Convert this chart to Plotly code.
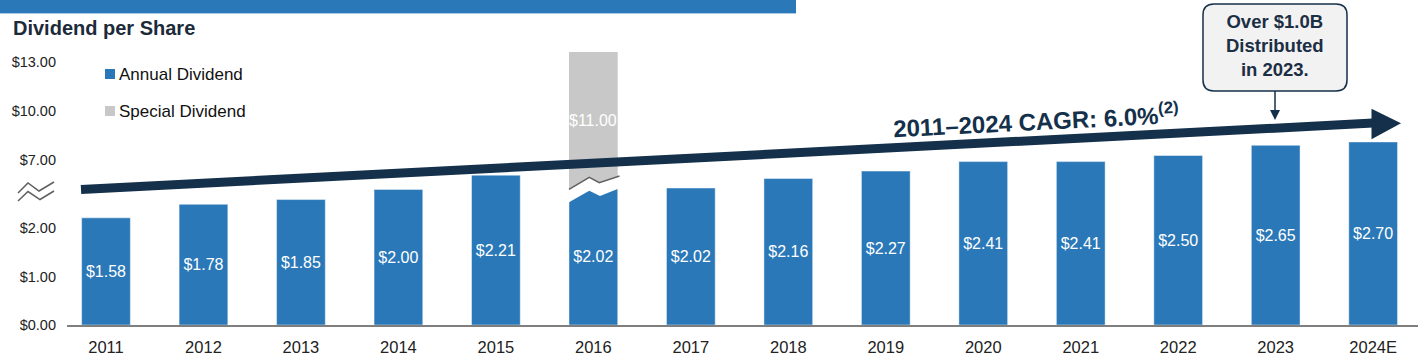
import plotly.graph_objects as go

# ---------------- data ----------------
years = ["2011", "2012", "2013", "2014", "2015", "2016", "2017",
         "2018", "2019", "2020", "2021", "2022", "2023", "2024E"]
annual_dividend = [1.58, 1.78, 1.85, 2.00, 2.21, 2.02, 2.02,
                   2.16, 2.27, 2.41, 2.41, 2.50, 2.65, 2.70]
special_year = ["2016"]
special_dividend = [11.00]
ytick_values = [0, 1, 2, 7, 10, 13]
ytick_labels = ["$0.00", "$1.00", "$2.00", "$7.00", "$10.00", "$13.00"]
series_names = ["Annual Dividend", "Special Dividend"]

# ---------------- styling / layout constants ----------------
W, H = 1418, 356
ML, MR, MT, MB = 67, 0, 50, 31
PW, PH = W - ML - MR, H - MT - MB
Y_TOP = 4.056           # axis-unit height of plot area (bars drawn in $)
X_RANGE = [-0.4, 13.46]
BLUE = "#2a78b8"
GRAY = "#c8c8c8"
NAVY = "#14304a"
FONT = "Arial, Liberation Sans, sans-serif"


def px(xp, yp):
    """pixel -> paper coords"""
    return (xp - ML) / PW, (H - MB - yp) / PH


def broken_axis(v):
    # broken axis used for the tick labels on the left
    if v <= 2:
        return v * 0.715
    return 2.435 + (v - 7) * 0.2417


fig = go.Figure()

fig.add_trace(go.Bar(
    x=years, y=annual_dividend, name=series_names[0],
    marker=dict(color=BLUE, line=dict(color="rgba(255,255,255,0.45)", width=1)),
    width=0.5,
    texttemplate="$%{y:.2f}", textposition="inside", insidetextanchor="middle",
    textangle=0, textfont=dict(color="white", size=16, family=FONT),
    showlegend=False, hoverinfo="x+y",
))

special_base = [annual_dividend[years.index(y)] for y in special_year]
fig.add_trace(go.Bar(
    x=special_year, y=[Y_TOP - 0.03 - b for b in special_base], base=special_base,
    name=series_names[1],
    marker=dict(color=GRAY, line=dict(width=0)),
    width=0.5, showlegend=False,
    customdata=special_dividend, hovertemplate="%{x}: $%{customdata:.2f}<extra></extra>",
))

shapes = []
annotations = []


def poly(points, close=True):
    s = ""
    for i, (a, b) in enumerate(points):
        xp, yp = px(a, b)
        s += ("M" if i == 0 else "L") + f"{xp:.5f},{yp:.5f}"
    return s + ("Z" if close else "")


# top banner
x0, y0 = px(0, 0)
x1, y1 = px(796, 13)
shapes.append(dict(type="rect", xref="paper", yref="paper", x0=x0, x1=x1, y0=y1, y1=y0 + 0.1,
                   fillcolor=BLUE, line=dict(width=0), layer="above"))
a0, b0 = px(0, 13.5)
a1, _ = px(796, 13.5)
shapes.append(dict(type="line", xref="paper", yref="paper", x0=a0, x1=a1, y0=b0, y1=b0,
                   line=dict(color="#a9c9e6", width=1)))

# legend (swatches + labels)
for i, (name, col) in enumerate(zip(series_names, [BLUE, GRAY])):
    cy = 74 + 37 * i
    lx0, ly0 = px(105, cy - 5)
    lx1, ly1 = px(115, cy + 5)
    shapes.append(dict(type="rect", xref="paper", yref="paper", x0=lx0, x1=lx1, y0=ly1, y1=ly0,
                       fillcolor=col, line=dict(width=0)))
    tx, ty = px(117, cy)
    annotations.append(dict(xref="paper", yref="paper", x=tx, y=ty, xanchor="left",
                            yanchor="middle", text=name, showarrow=False,
                            font=dict(size=17, color="#111111", family=FONT)))

# y-axis break marks
shapes.append(dict(type="path", xref="paper", yref="paper",
                   path=poly([(18, 193), (28, 183), (39, 191), (54, 182)], close=False),
                   line=dict(color="#606060", width=1.5)))
shapes.append(dict(type="path", xref="paper", yref="paper",
                   path=poly([(18, 201), (28, 191.5), (40, 199.5), (54, 191)], close=False),
                   line=dict(color="#606060", width=1.5)))

# break in the 2016 bar
shapes.append(dict(type="path", xref="paper", yref="paper",
                   path=poly([(569, 189.3), (589.3, 177.3), (599.3, 182.7), (619.5, 176),
                              (619.5, 188.3), (600, 196), (589.3, 190.7), (569, 202.3)]),
                   fillcolor="white", line=dict(width=0), layer="above"))
shapes.append(dict(type="path", xref="paper", yref="paper",
                   path=poly([(569, 189.3), (589.3, 177.3), (599.3, 182.7), (619.5, 176)], close=False),
                   line=dict(color="#606060", width=1.5), layer="above"))

# CAGR arrow
sx0, sy0 = px(81, 189.5)
sx1, sy1 = px(1373, 123.1)
shapes.append(dict(type="line", xref="paper", yref="paper", x0=sx0, y0=sy0, x1=sx1, y1=sy1,
                   line=dict(color=NAVY, width=9), layer="above"))
shapes.append(dict(type="path", xref="paper", yref="paper",
                   path=poly([(1371.5, 108.8), (1401, 123.3), (1371.5, 139.3)]),
                   fillcolor=NAVY, line=dict(width=0), layer="above"))

# callout box (rounded)
L, R, T, B, r = 1203, 1347, 4, 91, 11
def P(a, b):
    xp, yp = px(a, b)
    return f"{xp:.5f},{yp:.5f}"
box = (f"M{P(L + r, T)}L{P(R - r, T)}Q{P(R, T)} {P(R, T + r)}L{P(R, B - r)}"
       f"Q{P(R, B)} {P(R - r, B)}L{P(L + r, B)}Q{P(L, B)} {P(L, B - r)}"
       f"L{P(L, T + r)}Q{P(L, T)} {P(L + r, T)}Z")
shapes.append(dict(type="path", xref="paper", yref="paper", path=box,
                   fillcolor="#f2f2f2", line=dict(color=NAVY, width=1.5), layer="above"))
cx0, cy0 = px(1275, 91)
cx1, cy1 = px(1275, 112)
shapes.append(dict(type="line", xref="paper", yref="paper", x0=cx0, y0=cy0, x1=cx1, y1=cy1,
                   line=dict(color=NAVY, width=1.5), layer="above"))
shapes.append(dict(type="path", xref="paper", yref="paper",
                   path=poly([(1270, 110), (1280, 110), (1275, 120)]),
                   fillcolor=NAVY, line=dict(width=0), layer="above"))

# texts
tx, ty = px(11, 28)
annotations.append(dict(xref="paper", yref="paper", x=tx, y=ty, xanchor="left", yanchor="middle",
                        text="<b>Dividend per Share</b>", showarrow=False,
                        font=dict(size=20, color="#1c2a3a", family=FONT)))
tx, ty = px(1036, 120)
annotations.append(dict(xref="paper", yref="paper", x=tx, y=ty, xanchor="center", yanchor="middle",
                        text="<b>2011–2024 CAGR: 6.0%<sup>(2)</sup></b>", showarrow=False,
                        textangle=-2.9, font=dict(size=24, color=NAVY, family=FONT)))
tx, ty = px(1275, 46)
annotations.append(dict(xref="paper", yref="paper", x=tx, y=ty, xanchor="center", yanchor="middle",
                        text="<b>Over $1.0B<br>Distributed<br>in 2023.</b>", showarrow=False,
                        font=dict(size=18.5, color="#1c2e44", family=FONT)))
annotations.append(dict(xref="x", yref="y", x=years.index(special_year[0]), y=3.01,
                        text=f"${special_dividend[0]:.2f}", showarrow=False,
                        font=dict(size=16, color="white", family=FONT)))

fig.update_layout(
    width=W, height=H, autosize=False,
    margin=dict(l=ML, r=MR, t=MT, b=MB, pad=0),
    paper_bgcolor="white", plot_bgcolor="white",
    barmode="overlay",
    font=dict(family=FONT, color="#222222"),
    showlegend=False,
    shapes=shapes, annotations=annotations,
    xaxis=dict(type="category", range=X_RANGE, showgrid=False, zeroline=False,
               showline=True, linecolor="#7f7f7f", linewidth=1.5, ticks="",
               tickfont=dict(size=16.5, color="#222222", family=FONT), ticklabelstandoff=6),
    yaxis=dict(range=[0, Y_TOP], showgrid=False, zeroline=False, showline=False,
               tickmode="array", tickvals=[broken_axis(v) for v in ytick_values],
               ticktext=ytick_labels, ticks="", ticklabelstandoff=10,
               tickfont=dict(size=14.5, color="#222222", family=FONT)),
)

fig.write_html("out.html", config={"displayModeBar": False},
               post_script="document.body.style.margin='0';document.body.style.overflow='hidden';")
